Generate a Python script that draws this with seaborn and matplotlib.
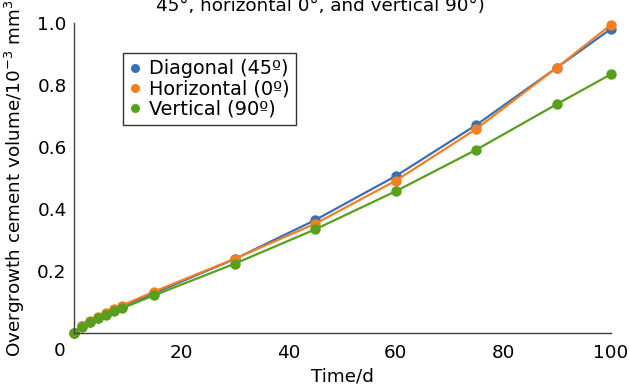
import matplotlib
matplotlib.use("Agg")
import matplotlib.pyplot as plt
from matplotlib.lines import Line2D
import seaborn as sns
import pandas as pd

days = [0, 1.5, 3, 4.5, 6, 7.5, 9, 15, 30, 45, 60, 75, 90, 100]
diagonal = [0.0, 0.020, 0.035, 0.048, 0.061, 0.073, 0.083, 0.127, 0.237, 0.363, 0.505, 0.670, 0.855, 0.979]
horizontal = [0.0, 0.021, 0.036, 0.050, 0.063, 0.076, 0.087, 0.132, 0.238, 0.351, 0.490, 0.657, 0.855, 0.992]
vertical = [0.0, 0.019, 0.033, 0.046, 0.058, 0.069, 0.078, 0.120, 0.222, 0.333, 0.456, 0.590, 0.737, 0.833]
series_names = ["Diagonal (45º)", "Horizontal (0º)", "Vertical (90º)"]
colors = ["#3a6fb4", "#f28022", "#58a01c"]
x_ticks = [20, 40, 60, 80, 100]
y_ticks = [0.2, 0.4, 0.6, 0.8, 1.0]
title_text = "45°, horizontal 0°, and vertical 90°)"
xlabel = "Time/d"
ylabel = "Overgrowth cement volume/10$^{-3}$ mm$^3$"

sns.set_style("white")
plt.rcParams["font.family"] = ["DejaVu Sans"]
plt.rcParams["mathtext.fontset"] = "dejavusans"
plt.rcParams["text.color"] = "black"
plt.rcParams["axes.labelcolor"] = "black"
plt.rcParams["xtick.color"] = "black"
plt.rcParams["ytick.color"] = "black"
FS = 13.2

df = pd.DataFrame({
    "day": days * 3,
    "value": diagonal + horizontal + vertical,
    "series": [series_names[0]] * len(days) + [series_names[1]] * len(days) + [series_names[2]] * len(days),
})

fig = plt.figure(figsize=(6.29, 3.87), dpi=100)
ax = fig.add_axes([0.1169, 0.1408, 0.8537, 0.8005])

sns.lineplot(data=df, x="day", y="value", hue="series", hue_order=series_names,
             palette=dict(zip(series_names, colors)), marker="o", markersize=7.5,
             markeredgewidth=0, linewidth=1.6, legend=False, ax=ax, clip_on=False,
             estimator=None, sort=False)

ax.set_xlim(0, 100)
ax.set_ylim(0, 1.0)
ax.set_xticks(x_ticks)
ax.set_yticks(y_ticks)
ax.set_xticklabels([str(v) for v in x_ticks], fontsize=FS)
ax.set_yticklabels([f"{v:.1f}" for v in y_ticks], fontsize=FS)
ax.tick_params(axis="both", direction="in", length=4.5, width=1, color="#404040",
               labelcolor="black")
ax.tick_params(axis="x", pad=8)
ax.tick_params(axis="y", pad=5)
for s in ["top", "right"]:
    ax.spines[s].set_visible(False)
for s in ["left", "bottom"]:
    ax.spines[s].set_color("#404040")
    ax.spines[s].set_linewidth(1)

ax.set_xlabel(xlabel, fontsize=FS, labelpad=4, color="black")
ax.set_ylabel(ylabel, fontsize=FS, labelpad=7, color="black")

ax.annotate("0", xy=(0, 0), xycoords="axes fraction", xytext=(-10, -13.5),
            textcoords="offset points", ha="center", va="center", fontsize=FS,
            color="black")

handles = [Line2D([], [], linestyle="none", marker="o", markersize=6.5,
                  markeredgewidth=0, color=c) for c in colors]
leg = ax.legend(handles, series_names, loc="upper left", bbox_to_anchor=(0.092, 0.902),
                borderaxespad=0, fontsize=FS + 0.7, frameon=True, fancybox=False,
                edgecolor="black", handlelength=0.6, handletextpad=0.4,
                labelspacing=0.05, borderpad=0.33)
leg.get_frame().set_linewidth(1)
for t in leg.get_texts():
    t.set_color("black")

fig.text(320 / 629, 1 - 11 / 387, title_text, ha="center", va="baseline", fontsize=FS,
         color="black")

fig.savefig("out.png", dpi=100)
